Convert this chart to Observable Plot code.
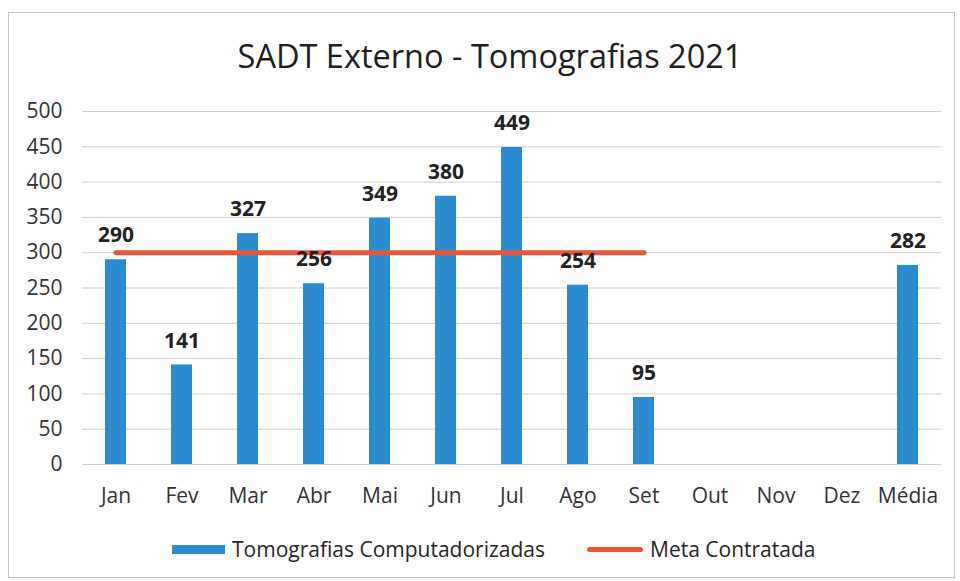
<!DOCTYPE html>
<html>
<head>
<meta charset="utf-8">
<script src="https://cdn.jsdelivr.net/npm/d3@7"></script>
<script src="https://cdn.jsdelivr.net/npm/@observablehq/plot@0.6"></script>
<style>
  html, body { margin: 0; padding: 0; background: #fff; }
  body { width: 960px; height: 581px; position: relative; overflow: hidden; font-family: "Open Sans", sans-serif; }
  #frame { position: absolute; left: 8px; top: 12px; width: 947px; height: 566px; border: 1px solid #c4c4c4; box-sizing: border-box; }
  #title { position: absolute; left: 0; top: 0; width: 960px; height: 90px; }
  #title span { position: absolute; left: 490px; top: 55px; transform: translate(-50%, -50%); font-size: 32.5px; color: #1e1e1e; white-space: nowrap; }
  #chart { position: absolute; left: 0; top: 90px; }
  .sw { position: absolute; }
  .lt { position: absolute; top: 549px; transform: translateY(-50%); white-space: nowrap; font-size: 21px; color: #262626; }
</style>
</head>
<body>
<div id="frame"></div>
<div id="title"><span>SADT Externo - Tomografias 2021</span></div>
<div id="chart"></div>
<script>
const months = ["Jan","Fev","Mar","Abr","Mai","Jun","Jul","Ago","Set","Out","Nov","Dez","Média"];
const tomografias = [290,141,327,256,349,380,449,254,95,null,null,null,282];
const metaMonths = ["Jan","Fev","Mar","Abr","Mai","Jun","Jul","Ago","Set"];
const metaValues = [300,300,300,300,300,300,300,300,300];
const yTicks = [0,50,100,150,200,250,300,350,400,450,500];
const seriesNames = ["Tomografias Computadorizadas","Meta Contratada"];

const barColor = "#2c8cd0";
const lineColor = "#e5573b";

const bars = months.map((m, i) => ({month: m, value: tomografias[i]})).filter(d => d.value != null);
const meta = metaMonths.map((m, i) => ({month: m, value: metaValues[i]}));

const chart = Plot.plot({
  width: 960,
  height: 430,
  marginTop: 21,
  marginBottom: 56,
  marginLeft: 82,
  marginRight: 19,
  style: {fontFamily: "Open Sans, sans-serif", fontSize: "21px", color: "#333", background: "transparent", overflow: "visible"},
  x: {domain: months, paddingInner: 0.68, paddingOuter: 0.34, label: null},
  y: {domain: [0, 500], label: null},
  marks: [
    Plot.gridY(yTicks, {stroke: "#cfcfcf", strokeOpacity: 1, strokeWidth: 1}),
    Plot.axisY(yTicks, {tickSize: 0, tickPadding: 20, label: null, fill: "#333"}),
    Plot.axisX({tickSize: 0, tickPadding: 24, label: null, fill: "#333"}),
    Plot.barY(bars, {x: "month", y: "value", fill: barColor}),
    Plot.lineY(meta, {x: "month", y: "value", stroke: lineColor, strokeWidth: 5, strokeLinecap: "round"}),
    Plot.text(bars, {x: "month", y: "value", text: d => String(d.value), dy: -24, fontWeight: "bold", fontSize: 21, fill: "#222"})
  ]
});
document.getElementById("chart").appendChild(chart);

function add(html){ const d = document.createElement("div"); d.innerHTML = html; document.body.appendChild(d.firstChild); }
add(`<div class="sw" style="left:172px;top:545px;width:53px;height:9px;background:${barColor}"></div>`);
add(`<div class="lt" style="left:232px">${seriesNames[0]}</div>`);
add(`<div class="sw" style="left:587px;top:547px;width:56px;height:5px;border-radius:3px;background:${lineColor}"></div>`);
add(`<div class="lt" style="left:650px">${seriesNames[1]}</div>`);
</script>
</body>
</html>
